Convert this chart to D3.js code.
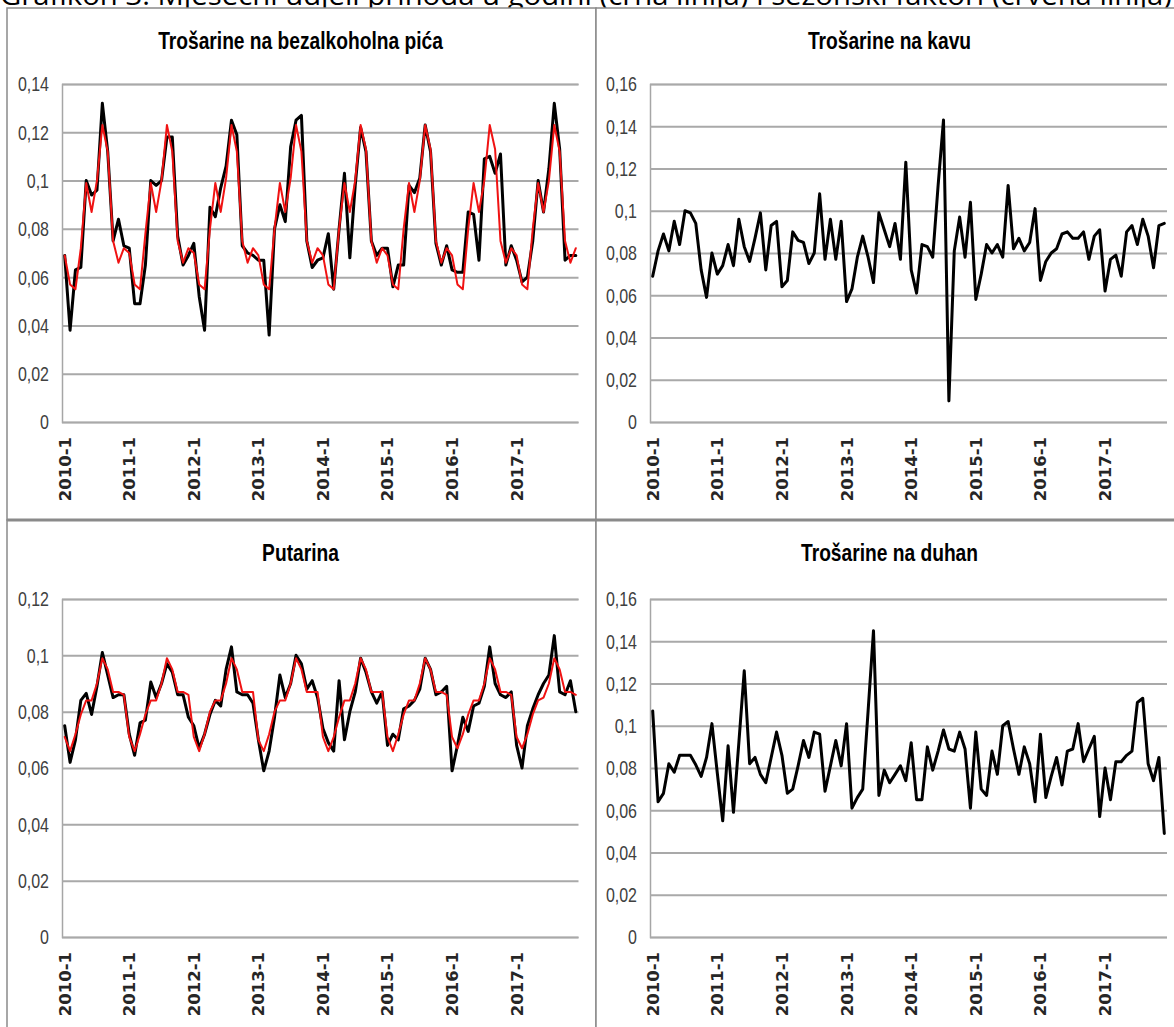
<!DOCTYPE html>
<html><head><meta charset="utf-8">
<script src="https://cdn.jsdelivr.net/npm/d3@7"></script>
<style>body{margin:0;background:#fff;overflow:hidden}</style>
</head><body><svg id="c" width="1174" height="1027"></svg>
<script>
// ---------------- DATA ----------------
const years = [2010, 2011, 2012, 2013, 2014, 2015, 2016, 2017];
const months = [1,2,3,4,5,6,7,8,9,10,11,12];
const categories = years.flatMap(y => months.map(m => `${y}-${m}`));
const tickLabels = ["2010-1","2011-1","2012-1","2013-1","2014-1","2015-1","2016-1","2017-1"];
const pageTitle = "Grafikon 3. Mjesečni udjeli prihoda u godini (crna linija) i sezonski faktori (crvena linija)";
const panelTitles = ["Trošarine na bezalkoholna pića", "Trošarine na kavu", "Putarina", "Trošarine na duhan"];
const yMaxes = [0.14, 0.16, 0.12, 0.16];

const softDrinksShare = [
  0.069,0.038,0.063,0.064,0.100,0.094,0.096,0.132,0.112,0.075,0.084,0.073,
  0.072,0.049,0.049,0.065,0.100,0.098,0.100,0.118,0.118,0.077,0.065,0.069,
  0.074,0.052,0.038,0.089,0.085,0.097,0.106,0.125,0.119,0.073,0.070,0.069,
  0.067,0.067,0.036,0.080,0.090,0.083,0.114,0.125,0.127,0.075,0.064,0.067,
  0.068,0.078,0.055,0.080,0.103,0.068,0.098,0.122,0.112,0.075,0.069,0.072,
  0.072,0.056,0.065,0.065,0.098,0.095,0.101,0.123,0.112,0.074,0.065,0.073,
  0.063,0.062,0.062,0.087,0.086,0.067,0.109,0.110,0.103,0.111,0.065,0.073,
  0.067,0.058,0.060,0.075,0.100,0.087,0.105,0.132,0.113,0.067,0.069,0.069
];
const softDrinksSeasonal = [
  0.069,0.057,0.055,0.072,0.099,0.087,0.100,0.123,0.112,0.075,0.066,0.072,
  0.070,0.057,0.055,0.078,0.099,0.087,0.100,0.123,0.112,0.075,0.066,0.072,
  0.070,0.057,0.055,0.080,0.099,0.087,0.101,0.123,0.112,0.075,0.066,0.072,
  0.069,0.057,0.055,0.080,0.099,0.087,0.101,0.123,0.112,0.075,0.066,0.072,
  0.069,0.057,0.055,0.080,0.099,0.087,0.100,0.123,0.113,0.075,0.066,0.072,
  0.069,0.057,0.055,0.080,0.099,0.087,0.100,0.123,0.113,0.075,0.066,0.072,
  0.069,0.057,0.055,0.080,0.099,0.087,0.100,0.123,0.113,0.075,0.066,0.072,
  0.069,0.057,0.055,0.080,0.099,0.087,0.100,0.123,0.112,0.075,0.066,0.072
];
const coffeeShare = [
  0.069,0.081,0.089,0.081,0.095,0.084,0.100,0.099,0.094,0.072,0.059,0.080,
  0.070,0.074,0.084,0.074,0.096,0.083,0.076,0.087,0.099,0.072,0.093,0.095,
  0.064,0.067,0.090,0.086,0.085,0.075,0.080,0.108,0.077,0.096,0.077,0.095,
  0.057,0.063,0.078,0.088,0.078,0.066,0.099,0.091,0.083,0.094,0.077,0.123,
  0.072,0.061,0.084,0.083,0.078,0.112,0.143,0.010,0.081,0.097,0.078,0.104,
  0.058,0.070,0.084,0.080,0.084,0.078,0.112,0.082,0.087,0.081,0.085,0.101,
  0.067,0.076,0.080,0.082,0.089,0.090,0.087,0.087,0.090,0.077,0.088,0.091,
  0.062,0.077,0.079,0.069,0.090,0.093,0.084,0.096,0.088,0.073,0.093,0.094
];
const roadTollShare = [
  0.075,0.062,0.070,0.084,0.0865,0.079,0.089,0.101,0.093,0.085,0.086,0.086,
  0.072,0.0645,0.076,0.077,0.0905,0.085,0.090,0.097,0.094,0.086,0.086,0.078,
  0.075,0.067,0.072,0.079,0.084,0.082,0.095,0.103,0.087,0.086,0.086,0.083,
  0.070,0.059,0.066,0.078,0.093,0.085,0.090,0.100,0.097,0.088,0.091,0.085,
  0.074,0.069,0.066,0.091,0.070,0.080,0.087,0.099,0.094,0.087,0.083,0.087,
  0.068,0.072,0.070,0.081,0.082,0.084,0.088,0.099,0.095,0.086,0.087,0.089,
  0.059,0.068,0.078,0.073,0.082,0.083,0.089,0.103,0.090,0.086,0.085,0.087,
  0.068,0.060,0.075,0.081,0.086,0.090,0.093,0.107,0.087,0.086,0.091,0.080
];
const roadTollSeasonal = [
  0.071,0.066,0.072,0.079,0.084,0.084,0.090,0.099,0.095,0.087,0.087,0.086,
  0.071,0.066,0.072,0.079,0.084,0.084,0.090,0.099,0.095,0.087,0.087,0.086,
  0.071,0.066,0.072,0.080,0.084,0.084,0.090,0.099,0.095,0.087,0.087,0.087,
  0.070,0.066,0.072,0.080,0.084,0.084,0.090,0.099,0.095,0.087,0.087,0.087,
  0.071,0.066,0.071,0.078,0.084,0.084,0.090,0.099,0.095,0.087,0.087,0.087,
  0.071,0.066,0.072,0.079,0.084,0.084,0.090,0.099,0.095,0.087,0.087,0.086,
  0.071,0.067,0.072,0.079,0.084,0.084,0.090,0.099,0.095,0.087,0.087,0.086,
  0.071,0.067,0.072,0.079,0.084,0.085,0.090,0.099,0.095,0.087,0.087,0.086
];
const tobaccoShare = [
  0.107,0.064,0.068,0.082,0.078,0.086,0.086,0.086,0.0815,0.076,0.085,0.101,
  0.0775,0.055,0.0905,0.059,0.092,0.126,0.082,0.085,0.077,0.073,0.085,0.097,
  0.086,0.068,0.070,0.081,0.093,0.085,0.097,0.096,0.069,0.081,0.093,0.081,
  0.101,0.061,0.066,0.070,0.107,0.145,0.067,0.079,0.073,0.077,0.081,0.074,
  0.092,0.065,0.065,0.090,0.079,0.088,0.098,0.089,0.088,0.097,0.089,0.061,
  0.097,0.070,0.067,0.088,0.077,0.100,0.102,0.089,0.077,0.090,0.082,0.064,
  0.096,0.066,0.076,0.085,0.072,0.088,0.089,0.101,0.083,0.089,0.095,0.057,
  0.080,0.065,0.083,0.083,0.086,0.088,0.111,0.113,0.082,0.074,0.085,0.049
];

// ---------------- LAYOUT ----------------
const svg = d3.select("#c");
const FONT_T = "'Liberation Sans', Arial, sans-serif";
const panels = [
  { title: panelTitles[0], ymax: yMaxes[0], series: [softDrinksShare, softDrinksSeasonal],
    box: [7, 8, 596, 520], plot: [62, 578.5, 84, 422] },
  { title: panelTitles[1], ymax: yMaxes[1], series: [coffeeShare],
    box: [596, 8, 1185, 520], plot: [650, 1167, 84, 422] },
  { title: panelTitles[2], ymax: yMaxes[2], series: [roadTollShare, roadTollSeasonal],
    box: [7, 520, 596, 1040], plot: [62, 578.5, 599, 937] },
  { title: panelTitles[3], ymax: yMaxes[3], series: [tobaccoShare],
    box: [596, 520, 1185, 1040], plot: [650, 1167, 599, 937] }
];
const seriesStyle = [
  { color: "#000000", width: 3 },
  { color: "#f01212", width: 2 }
];

// page caption, cut off at the top edge as in the source
svg.append("text")
  .attr("x", 0).attr("y", 5)
  .attr("textLength", 1172).attr("lengthAdjust", "spacingAndGlyphs")
  .style("font-family", "'Open Sans', sans-serif").style("font-size", "27px")
  .attr("fill", "#000").text(pageTitle);

const fmt = v => d3.format(".2~f")(v).replace(".", ",");

panels.forEach(p => {
  const g = svg.append("g");
  const [bx0, by0, bx1, by1] = p.box;
  const [px0, px1, py0, py1] = p.plot;

  g.append("rect").attr("x", bx0).attr("y", by0).attr("width", bx1 - bx0).attr("height", by1 - by0)
    .attr("fill", "#fff").attr("stroke", "#8a8a8a").attr("stroke-width", 1.5);

  const x = d3.scaleBand().domain(categories).range([px0, px1]).paddingInner(0).paddingOuter(0);
  const y = d3.scaleLinear().domain([0, p.ymax]).range([py1, py0]);
  const xc = c => x(c) + x.bandwidth() / 2;

  const ticks = d3.range(0, p.ymax + 1e-9, 0.02);
  const yAxis = d3.axisLeft(y).tickValues(ticks).tickSize(-(px1 - px0)).tickFormat("");
  const ga = g.append("g").attr("transform", `translate(${px0},0)`).call(yAxis);
  ga.select(".domain").attr("stroke", "#a6a6a6").attr("stroke-width", 1.5);
  ga.selectAll(".tick line").attr("stroke", "#a9a9a9").attr("stroke-width", 2);

  ticks.forEach(t => {
    g.append("text")
      .attr("transform", `translate(${px0 - 13},${y(t)}) scale(0.78,1)`)
      .attr("text-anchor", "end").attr("dy", "0.36em")
      .style("font-family", FONT_T).style("font-size", "20.5px")
      .attr("fill", "#404040").text(fmt(t));
  });

  const xAxis = d3.axisBottom(x).tickValues(tickLabels).tickSize(0).tickFormat(d => d);
  const gx = g.append("g").attr("transform", `translate(0,${py1})`).call(xAxis);
  gx.select(".domain").remove();
  gx.selectAll(".tick text")
    .attr("transform", "translate(0,15) rotate(-90)")
    .attr("x", 0).attr("y", 0).attr("dy", "0.36em")
    .attr("text-anchor", "end")
    .style("font-family", "'DejaVu Sans', sans-serif").style("font-size", "16.5px")
    .style("font-weight", "bold").attr("fill", "#262626");

  const line = d3.line().x((d, i) => xc(categories[i])).y(d => y(d)).curve(d3.curveLinear);
  p.series.forEach((s, k) => {
    g.append("path").datum(s).attr("d", line)
      .attr("fill", "none").attr("stroke", seriesStyle[k].color)
      .attr("stroke-width", seriesStyle[k].width)
      .attr("stroke-linejoin", "round").attr("stroke-linecap", "round");
  });

  g.append("text")
    .attr("transform", `translate(${(bx0 + bx1) / 2 - 1},${by0 + 41}) scale(0.8,1)`)
    .attr("text-anchor", "middle")
    .style("font-family", FONT_T).style("font-size", "24px").style("font-weight", "bold")
    .attr("fill", "#000").text(p.title);
});

svg.append("line").attr("x1", 7).attr("x2", 1174).attr("y1", 520).attr("y2", 520)
  .attr("stroke", "#8a8a8a").attr("stroke-width", 3);
</script></body></html>
